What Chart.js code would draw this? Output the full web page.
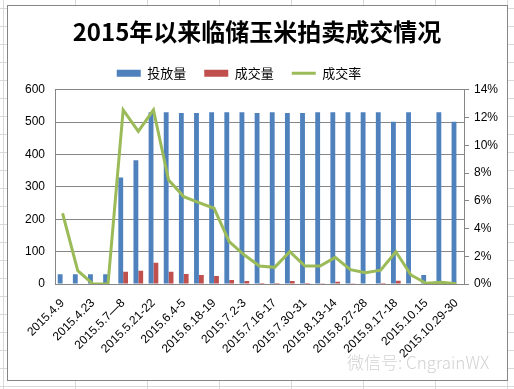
<!DOCTYPE html>
<html>
<head>
<meta charset="utf-8">
<script src="https://cdn.jsdelivr.net/npm/chart.js@4.4.0/dist/chart.umd.min.js"></script>
<style>
    html, body {
        margin: 0;
        padding: 0;
        width: 514px;
        height: 389px;
        overflow: hidden;
        background-color: #fff;
        background-image:
            repeating-linear-gradient(to right, #d9d9d9 0, #d9d9d9 1px, transparent 1px, transparent 72px),
            repeating-linear-gradient(to bottom, #d9d9d9 0, #d9d9d9 1px, transparent 1px, transparent 18px);
        background-position: 3px 0, 0 8px;
    }
    #frame {
        position: absolute;
        left: 7px;
        top: 5px;
        width: 499px;
        height: 374px;
        background: #fff;
        border: 1px solid #868686;
    }
    #chart-wrap {
        position: absolute;
        left: 0;
        top: 0;
        width: 514px;
        height: 389px;
    }
    #watermark {
        position: absolute;
        left: 347px;
        top: 352px;
        font-family: "Noto Sans CJK SC", sans-serif;
        font-weight: 300;
        font-size: 17px;
        color: #d2d2d2;
        white-space: nowrap;
        line-height: 20px;
    }
</style>
</head>
<body>
<div id="frame"></div>
<div id="chart-wrap"><canvas id="auction-chart" width="514" height="389"></canvas></div>
<div id="watermark">微信号: CngrainWX</div>
<script>
// Tick labels shown on the category axis (every other auction date)
const tickLabels = ['2015.4.9', '2015.4.23', '2015.5.7—8', '2015.5.21-22', '2015.6.4-5', '2015.6.18-19',
    '2015.7.2-3', '2015.7.16-17', '2015.7.30-31', '2015.8.13-14', '2015.8.27-28', '2015.9.17-18',
    '2015.10.15', '2015.10.29-30'];

// 投放量 (offered volume)
const offered = [30, 30, 30, 30, 329, 382, 531, 531, 528, 528, 531, 531, 531, 528,
    531, 528, 528, 531, 531, 531, 531, 531, 501, 531, 28, 531, 501];

// 成交量 (traded volume)
const traded = [0, 0, 0, 0, 38, 41, 66, 38, 31, 28, 25, 12, 9, 3,
    3, 9, 3, 2, 7, 2, 0, 3, 10, 0, 0, 0, 0];

// 成交率 (%)
const tradeRate = [5.1, 0.96, 0, 0, 12.55, 11.0, 12.55, 7.5, 6.3, 5.87, 5.46, 3.05, 2.09, 1.3,
    1.2, 2.33, 1.3, 1.3, 1.92, 1.03, 0.82, 1.0, 2.33, 0.65, 0.05, 0.12, 0.02];

// 27 auctions, only every other one is labelled
const categories = offered.map((v, i) => (i % 2 === 0 ? tickLabels[i / 2] : ''));

const fontFamily = '"Liberation Sans", "Noto Sans CJK SC", sans-serif';
const axisColor = '#868686';

// the legend in the original sits a little left of centre
const legendShift = {
    id: 'legendShift',
    afterLayout(chart) {
        chart.legend.left -= 18;
        chart.legend.right -= 18;
    }
};

new Chart(document.getElementById('auction-chart'), {
    type: 'bar',
    data: {
        labels: categories,
        datasets: [
            {
                label: '投放量',
                data: offered,
                backgroundColor: '#4F81BD',
                yAxisID: 'y',
                categoryPercentage: 0.64,
                barPercentage: 1.0,
                pointStyle: 'rect',
                order: 1
            },
            {
                label: '成交量',
                data: traded,
                backgroundColor: '#C0504D',
                yAxisID: 'y',
                categoryPercentage: 0.64,
                barPercentage: 1.0,
                pointStyle: 'rect',
                order: 1
            },
            {
                type: 'line',
                label: '成交率',
                data: tradeRate,
                borderColor: '#9BBB59',
                backgroundColor: '#9BBB59',
                borderWidth: 3,
                pointRadius: 0,
                pointStyle: 'line',
                tension: 0,
                yAxisID: 'y1',
                order: 0
            }
        ]
    },
    plugins: [legendShift],
    options: {
        responsive: false,
        animation: false,
        devicePixelRatio: 1,
        layout: {
            padding: { left: 10, right: 10, top: 7, bottom: 10 }
        },
        plugins: {
            title: {
                display: true,
                text: '2015年以来临储玉米拍卖成交情况',
                color: '#000',
                font: { size: 24, weight: 'bold', family: '"Noto Sans CJK SC", sans-serif' },
                padding: { top: 10, bottom: 3 }
            },
            legend: {
                position: 'top',
                labels: {
                    color: '#000',
                    font: { size: 13, family: '"Noto Sans CJK SC", sans-serif' },
                    usePointStyle: true,
                    pointStyleWidth: 24,
                    boxHeight: 7,
                    padding: 18,
                    sort: (a, b) => a.datasetIndex - b.datasetIndex
                }
            },
            tooltip: { enabled: false }
        },
        scales: {
            x: {
                grid: { display: true, drawOnChartArea: false, drawTicks: false },
                border: { color: axisColor },
                ticks: {
                    autoSkip: false,
                    minRotation: 45,
                    maxRotation: 45,
                    padding: 12,
                    color: '#000',
                    font: { size: 12, family: fontFamily }
                },
                afterFit: function(scale) { scale.height = 95; }
            },
            y: {
                position: 'left',
                min: 0,
                max: 600,
                grid: { color: axisColor, drawTicks: false },
                border: { color: axisColor },
                ticks: {
                    stepSize: 100,
                    padding: 10,
                    color: '#000',
                    font: { size: 12, family: fontFamily }
                },
                afterFit: function(scale) { scale.width = 45; }
            },
            y1: {
                position: 'right',
                min: 0,
                max: 14,
                grid: { drawOnChartArea: false, color: axisColor, tickLength: 5 },
                border: { color: axisColor },
                ticks: {
                    stepSize: 2,
                    padding: 5,
                    color: '#000',
                    font: { size: 12, family: fontFamily },
                    callback: function(value) { return value + '%'; }
                },
                afterFit: function(scale) { scale.width = 40; }
            }
        }
    }
});
</script>
</body>
</html>
